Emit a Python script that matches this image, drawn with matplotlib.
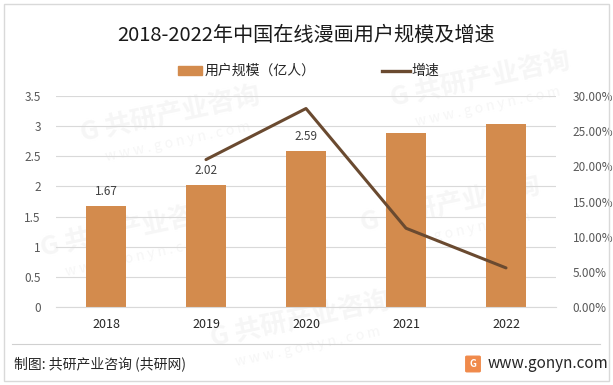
import matplotlib
matplotlib.use("Agg")
import matplotlib.pyplot as plt
from matplotlib.patches import Rectangle, FancyBboxPatch
from matplotlib.lines import Line2D

plt.rcParams['font.family'] = ['Noto Sans CJK SC', 'DejaVu Sans']

years = ['2018', '2019', '2020', '2021', '2022']
users = [1.67, 2.02, 2.59, 2.88, 3.04]
user_labels = ['1.67', '2.02', '2.59', '', '']
growth_years = ['2019', '2020', '2021', '2022']
growth = [20.96, 28.22, 11.20, 5.56]

bar_color = '#D38B4D'
line_color = '#6A4A30'
grid_color = '#D9D9D9'
tick_color = '#595959'

fig = plt.figure(figsize=(6.13, 3.85), dpi=100)
W, H = 613, 385

# faint watermark layer
bg = fig.add_axes([0, 0, 1, 1], zorder=-5)
bg.set_xlim(0, W)
bg.set_ylim(H, 0)
bg.axis('off')
for wx, wy in [(170, 115), (480, 80), (130, 230), (450, 205), (300, 320)]:
    bg.text(wx, wy, 'G 共研产业咨询', fontsize=19, fontweight='bold', color='#F6F6F6',
            rotation=12, ha='center', va='center')
    bg.text(wx + 8, wy + 27, 'w w w . g o n y n . c o m', fontsize=10, color='#F6F6F6',
            rotation=12, ha='center', va='center')

ax = fig.add_axes([56 / W, 1 - 307 / H, 500 / W, 211 / H])
ax2 = ax.twinx()

xs = list(range(len(years)))
ax.bar(xs, users, width=0.4, color=bar_color, zorder=2)
for x, v, lab in zip(xs, users, user_labels):
    if lab:
        ax.text(x, v + 0.13, lab, ha='center', va='bottom', fontsize=8.5, color='#404040')

gx = [years.index(y) for y in growth_years]
ax2.plot(gx, growth, color=line_color, lw=2.2, solid_capstyle='round', zorder=3)

ax.set_xlim(-0.5, 4.5)
ax.set_ylim(0, 3.5)
ax.set_yticks([0, 0.5, 1, 1.5, 2, 2.5, 3, 3.5])
ax.set_yticklabels(['0', '0.5', '1', '1.5', '2', '2.5', '3', '3.5'])
ax2.set_ylim(0, 30)
ax2.set_yticks([0, 5, 10, 15, 20, 25, 30])
ax2.set_yticklabels(['%.2f%%' % v for v in [0, 5, 10, 15, 20, 25, 30]])
ax.set_xticks(xs)
ax.set_xticklabels(years)

ax.grid(axis='y', color=grid_color, lw=0.8, zorder=0)
ax.set_axisbelow(True)
for a in (ax, ax2):
    for s in a.spines.values():
        s.set_visible(False)
    a.tick_params(length=0, labelsize=8.5, colors=tick_color)
ax.spines['bottom'].set_visible(True)
ax.spines['bottom'].set_color(grid_color)
ax.tick_params(axis='y', pad=11)
ax2.tick_params(axis='y', pad=12)
ax.tick_params(axis='x', pad=8, colors='#262626', labelsize=9)
ax2.set_zorder(ax.get_zorder() + 1)
ax.patch.set_visible(False)
ax2.patch.set_visible(False)

# title
fig.text(0.5, 1 - 35 / H, '2018-2022年中国在线漫画用户规模及增速', ha='center', va='center',
         fontsize=14.5, color='#1a1a1a')

# legend
fig.patches.append(Rectangle((178 / W, 1 - 75 / H), 24 / W, 9 / H, transform=fig.transFigure,
                             color=bar_color))
fig.text(205 / W, 1 - 71 / H, '用户规模（亿人）', ha='left', va='center', fontsize=10, color='#262626')
fig.lines.append(Line2D([382 / W, 410 / W], [1 - 71 / H, 1 - 71 / H], transform=fig.transFigure,
                        color=line_color, lw=2.4))
fig.text(411 / W, 1 - 71 / H, '增速', ha='left', va='center', fontsize=10, color='#262626')

# footer
fig.lines.append(Line2D([12 / W, 600 / W], [1 - 344 / H, 1 - 344 / H], transform=fig.transFigure,
                        color='#D0D0D0', lw=0.8))
fig.text(14 / W, 1 - 364 / H, '制图: 共研产业咨询 (共研网)', ha='left', va='center', fontsize=10,
         color='#262626')
fig.patches.append(FancyBboxPatch((467 / W, 1 - 371 / H), 12 / W, 14 / H, transform=fig.transFigure,
                                  boxstyle='round,pad=0.002', color='#F08A4B'))
fig.text(473 / W, 1 - 364 / H, 'G', ha='center', va='center', fontsize=7, color='white',
         fontweight='bold')
fig.text(488 / W, 1 - 364 / H, 'www.gonyn.com', ha='left', va='center', fontsize=11, color='#262626')

# outer border
fig.patches.append(Rectangle((4 / W, 4 / H), 605 / W, 377 / H, transform=fig.transFigure,
                             fill=False, edgecolor='#D9D9D9', lw=1))

fig.savefig('out.png', dpi=100)
